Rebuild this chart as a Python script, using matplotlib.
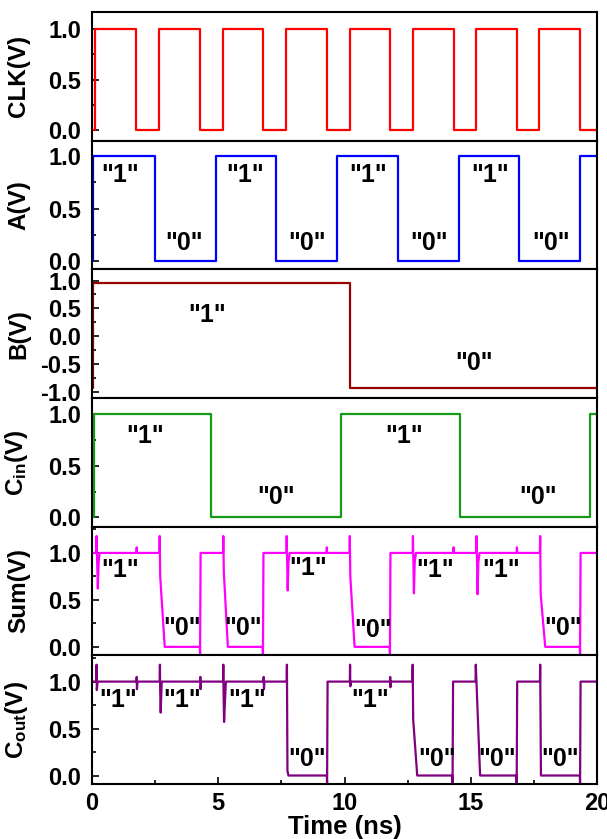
import matplotlib
matplotlib.use("Agg")
import matplotlib.pyplot as plt
from matplotlib.ticker import MultipleLocator, AutoMinorLocator

plt.rcParams["font.family"] = ["Liberation Sans", "DejaVu Sans"]
plt.rcParams["font.weight"] = "bold"
plt.rcParams["mathtext.fontset"] = "custom"
plt.rcParams["mathtext.rm"] = "Liberation Sans:bold"
plt.rcParams["mathtext.it"] = "Liberation Sans:bold"
plt.rcParams["mathtext.bf"] = "Liberation Sans:bold"
plt.rcParams["axes.linewidth"] = 1.5

# ================= DATA =================
# square inputs: edge times (ns) and level after each edge (steps-post)
clk_t = [0, 0.11, 1.75, 2.67, 4.28, 5.19, 6.78, 7.70, 9.31, 10.20, 11.80, 12.72, 14.33, 15.20, 16.83, 17.71, 19.31, 20]
clk_v = [0, 1, 0, 1, 0, 1, 0, 1, 0, 1, 0, 1, 0, 1, 0, 1, 0, 0]

a_t = [0, 0.04, 2.49, 4.90, 7.29, 9.70, 12.10, 14.53, 16.90, 19.31, 20]
a_v = [0, 1, 0, 1, 0, 1, 0, 1, 0, 1, 1]

b_t = [0, 0.03, 10.23, 20]
b_v = [-0.93, 0.96, -0.93, -0.93]

cin_t = [0, 0.08, 4.73, 9.88, 14.57, 19.71, 20]
cin_v = [0, 1, 0, 1, 0, 1, 1]

# simulated outputs (piecewise linear)
sum_t = [0, 0.17, 0.18, 0.20, 0.23, 0.26, 0.30,
         1.76, 1.77, 1.78,
         2.67, 2.68, 2.70, 2.88,
         4.27, 4.28, 4.30,
         5.19, 5.20, 5.22, 5.38,
         6.76, 6.77, 6.79,
         7.70, 7.71, 7.73, 7.75, 7.78, 7.83,
         9.29, 9.30, 9.31,
         10.20, 10.21, 10.23, 10.40,
         11.79, 11.80, 11.82,
         12.70, 12.71, 12.73, 12.75, 12.78, 12.83,
         14.31, 14.32, 14.33,
         15.22, 15.23, 15.25, 15.27, 15.30, 15.35,
         16.82, 16.83, 16.84,
         17.74, 17.75, 17.77, 17.95,
         19.32, 19.33, 19.35, 20]
sum_v = [1.0, 1.0, 1.18, 0.95, 0.62, 0.9, 1.0,
         1.0, 1.06, 1.0,
         1.0, 1.18, 0.75, 0.0,
         0.0, -0.09, 1.0,
         1.0, 1.18, 0.8, 0.0,
         0.0, -0.09, 1.0,
         1.0, 1.18, 0.9, 0.6, 0.9, 1.0,
         1.0, 1.06, 1.0,
         1.0, 1.18, 0.75, 0.0,
         0.0, -0.09, 1.0,
         1.0, 1.18, 0.9, 0.57, 0.9, 1.0,
         1.0, 1.06, 1.0,
         1.0, 1.18, 0.9, 0.56, 0.9, 1.0,
         1.0, 1.06, 1.0,
         1.0, 1.18, 0.56, 0.0,
         0.0, -0.09, 1.0, 1.0]

cout_t = [0, 0.17, 0.18, 0.19, 0.22,
          1.76, 1.77, 1.78, 1.80,
          2.68, 2.69, 2.70, 2.72, 2.76,
          4.28, 4.29, 4.30, 4.32,
          5.19, 5.20, 5.21, 5.23, 5.30,
          6.79, 6.80, 6.81, 6.83,
          7.71, 7.72, 7.74, 7.78,
          9.30, 9.31, 9.33,
          10.21, 10.22, 10.23, 10.26,
          11.80, 11.81, 11.82, 11.84,
          12.69, 12.70, 12.72, 12.88,
          14.27, 14.28, 14.30,
          15.19, 15.20, 15.37,
          16.81, 16.82, 16.84,
          17.74, 17.75, 17.78,
          19.32, 19.33, 19.35, 20]
cout_v = [1.0, 1.0, 1.18, 0.91, 1.0,
          1.0, 1.05, 0.92, 1.0,
          1.0, 1.18, 0.9, 0.67, 1.0,
          1.0, 1.05, 0.92, 1.0,
          1.0, 1.18, 0.9, 0.57, 1.0,
          1.0, 1.05, 0.92, 1.0,
          1.0, 1.18, 0.05, 0.0,
          0.0, -0.09, 1.0,
          1.0, 1.18, 0.95, 1.0,
          1.0, 1.05, 0.94, 1.0,
          1.0, 1.18, 0.6, 0.0,
          0.0, -0.09, 1.0,
          1.0, 1.18, 0.0,
          0.0, -0.09, 1.0,
          1.0, 1.18, 0.0,
          0.0, -0.09, 1.0, 1.0]

# logic-level annotations: (time, voltage, text)
a_marks = [(1.1, 0.82, '"1"'), (3.65, 0.17, '"0"'), (6.05, 0.82, '"1"'), (8.5, 0.17, '"0"'),
           (10.95, 0.82, '"1"'), (13.35, 0.17, '"0"'), (15.75, 0.82, '"1"'), (18.2, 0.17, '"0"')]
b_marks = [(4.55, 0.38, '"1"'), (15.15, -0.48, '"0"')]
cin_marks = [(2.1, 0.79, '"1"'), (7.3, 0.2, '"0"'), (12.35, 0.79, '"1"'), (17.65, 0.2, '"0"')]
sum_marks = [(1.1, 0.82, '"1"'), (3.55, 0.2, '"0"'), (6.0, 0.2, '"0"'), (8.57, 0.84, '"1"'),
             (11.14, 0.18, '"0"'), (13.6, 0.82, '"1"'), (16.22, 0.82, '"1"'), (18.67, 0.2, '"0"')]
cout_marks = [(1.04, 0.8, '"1"'), (3.55, 0.8, '"1"'), (6.13, 0.8, '"1"'), (8.5, 0.18, '"0"'),
              (11.0, 0.8, '"1"'), (13.65, 0.18, '"0"'), (16.03, 0.18, '"0"'), (18.53, 0.18, '"0"')]

# ================= PLOTTING =================
fig = plt.figure(figsize=(6.07, 8.39), dpi=100)
gs = fig.add_gridspec(6, 1, left=0.1516, right=0.9835, top=0.9857, bottom=0.0656, hspace=0)
axes = [fig.add_subplot(gs[i]) for i in range(6)]

panels = [
    (clk_t, clk_v, "#ff0000", "steps-post", "CLK(V)", (-0.1, 1.165), [], [0, 0.5, 1.0]),
    (a_t, a_v, "#0000ff", "steps-post", "A(V)", (-0.08, 1.15), a_marks, [0, 0.5, 1.0]),
    (b_t, b_v, "#990000", "steps-post", "B(V)", (-1.1, 1.2), b_marks, [-1.0, -0.5, 0, 0.5, 1.0]),
    (cin_t, cin_v, "#179a17", "steps-post", r"C$_{\mathrm{in}}$(V)", (-0.09, 1.156), cin_marks, [0, 0.5, 1.0]),
    (sum_t, sum_v, "#ff00ff", "default", "Sum(V)", (-0.09, 1.28), sum_marks, [0, 0.5, 1.0]),
    (cout_t, cout_v, "#800080", "default", r"C$_{\mathrm{out}}$(V)", (-0.09, 1.28), cout_marks, [0, 0.5, 1.0]),
]

for ax, (t, v, color, ds, label, ylim, marks, yt) in zip(axes, panels):
    ax.plot(t, v, color=color, lw=1.6, drawstyle=ds)
    for x, y, s in marks:
        ax.text(x, y, s, ha="center", va="center", fontsize=18, fontweight="bold")
    ax.set_xlim(0, 20)
    ax.set_ylim(*ylim)
    ax.set_yticks(yt)
    ax.yaxis.set_minor_locator(AutoMinorLocator(2))
    ax.set_yticklabels([f"{y:.1f}" for y in yt])
    ax.tick_params(axis="y", which="both", direction="in", labelsize=17, pad=8)
    ax.tick_params(axis="y", which="major", length=5, width=1.2)
    ax.tick_params(axis="y", which="minor", length=3, width=1.2)
    ax.set_ylabel(label, fontsize=17.5, fontweight="bold")
    ax.yaxis.set_label_coords(-0.122, 0.5)
    ax.tick_params(axis="x", which="both", bottom=False, labelbottom=False)

bottom = axes[-1]
bottom.xaxis.set_major_locator(MultipleLocator(5))
bottom.xaxis.set_minor_locator(AutoMinorLocator(2))
bottom.tick_params(axis="x", which="both", bottom=True, labelbottom=True, direction="in",
                   labelsize=17, pad=6)
bottom.tick_params(axis="x", which="major", length=5, width=1.2)
bottom.tick_params(axis="x", which="minor", length=3, width=1.2)
bottom.set_xlabel("Time (ns)", fontsize=18.5, fontweight="bold", labelpad=0)

fig.savefig("out.png", dpi=100)
